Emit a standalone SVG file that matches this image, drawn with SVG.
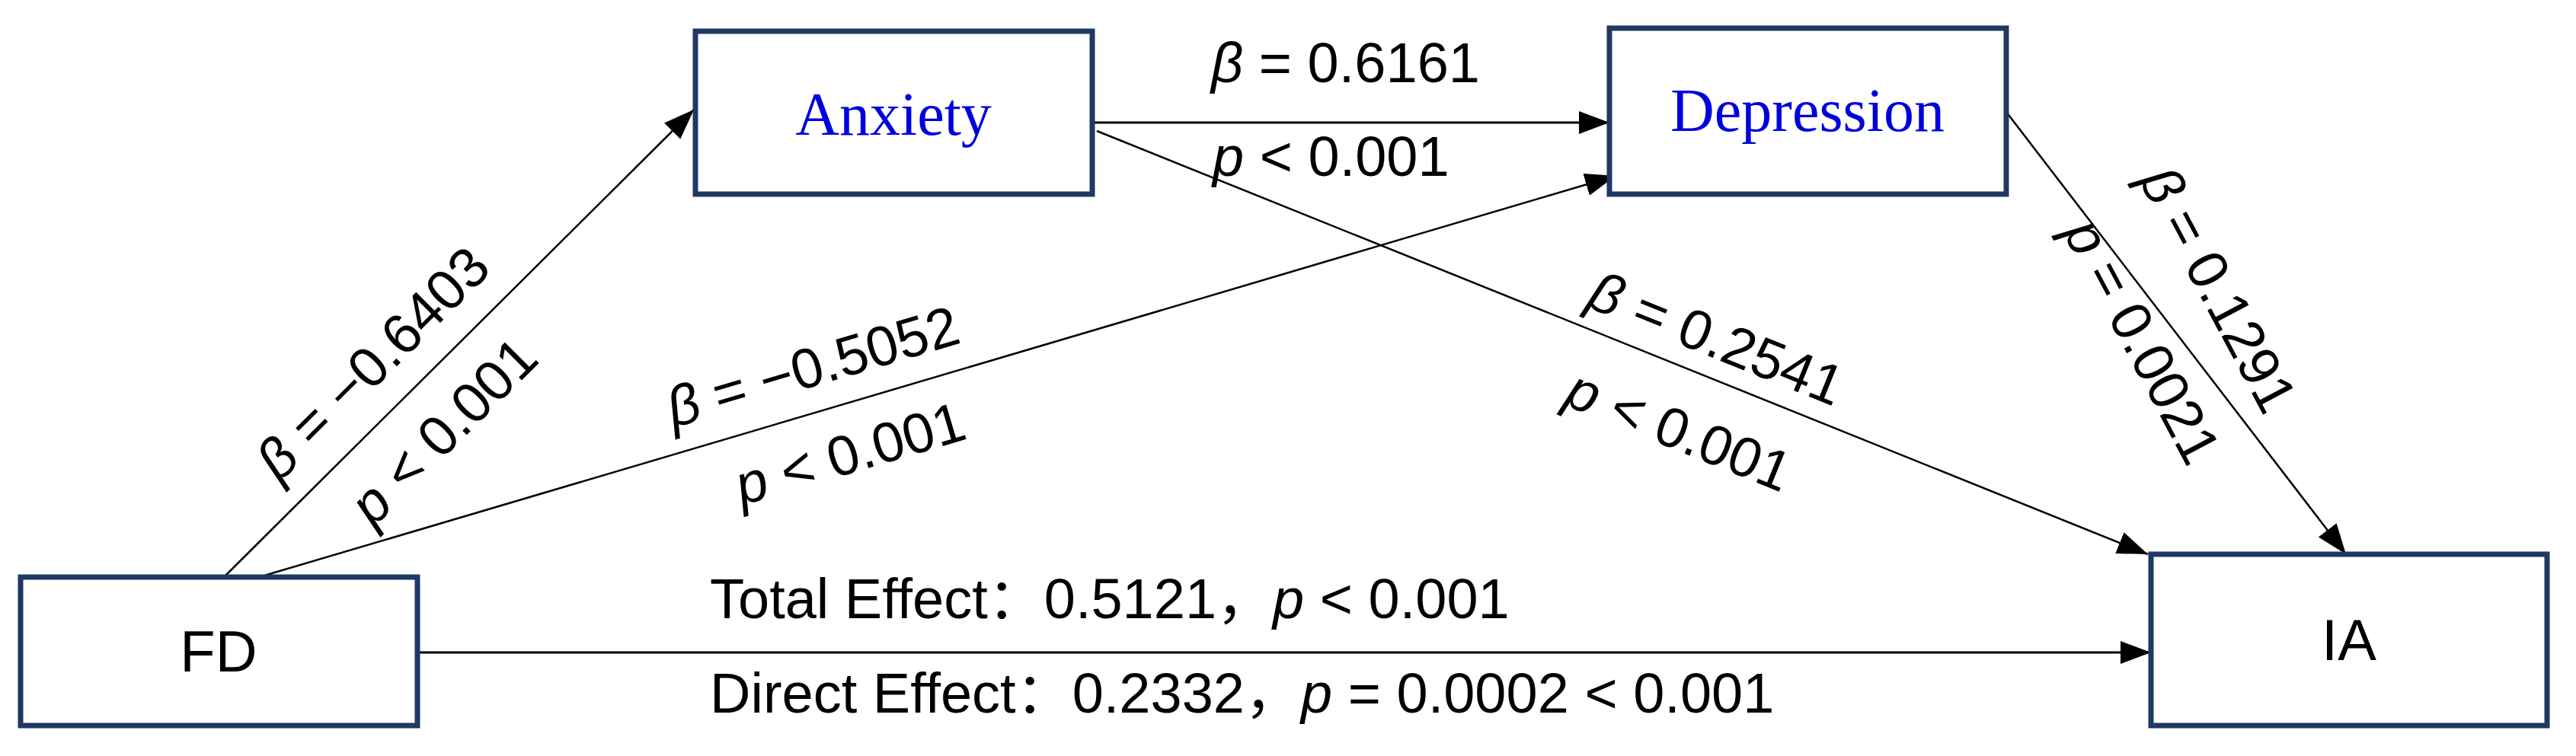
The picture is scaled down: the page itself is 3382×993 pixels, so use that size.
<svg xmlns="http://www.w3.org/2000/svg" width="3382" height="993" viewBox="0 0 3382 993">
<defs>
<marker id="ah" viewBox="0 0 40 30" refX="40" refY="15" markerWidth="40" markerHeight="30" markerUnits="userSpaceOnUse" orient="auto"><path d="M0,0 L40,15 L0,30 Z" fill="#000"/></marker>
<style>
.box{fill:#fff;stroke:#1f3864;stroke-width:7}
.ln{stroke:#000;stroke-width:3;fill:none;marker-end:url(#ah)}
.t{font-family:"Liberation Sans","Noto Sans CJK SC",sans-serif;font-size:76px;fill:#000;text-anchor:middle}
.s{font-family:"Liberation Serif",serif;font-size:80px;fill:#0000dd;text-anchor:middle}
.l{font-family:"Liberation Sans","Noto Sans CJK SC",sans-serif;font-size:74px;fill:#000}
</style>
</defs>
<rect width="3382" height="993" fill="#fff"/>
<g id="edges">
<line class="ln" x1="295" y1="757" x2="911" y2="144" style="stroke-width:2.5"/>
<line class="ln" x1="320" y1="764" x2="2121" y2="231" style="stroke-width:2.5"/>
<line class="ln" x1="1434" y1="161" x2="2113" y2="161"/>
<line class="ln" x1="1440" y1="172" x2="2820" y2="728" style="stroke-width:2.5"/>
<line class="ln" x1="2634" y1="147" x2="3080" y2="728" style="stroke-width:2.5"/>
<line class="ln" x1="548" y1="857" x2="2824" y2="857"/>
</g>
<g id="node-anxiety"><rect class="box" x="913" y="41" width="521" height="214"/><text class="s" x="1173" y="177">Anxiety</text></g>
<g id="node-depression"><rect class="box" x="2113" y="37" width="521" height="218"/><text class="s" x="2373" y="172">Depression</text></g>
<g id="node-fd"><rect class="box" x="27" y="758" width="521" height="195"/><text class="t" x="287" y="882">FD</text></g>
<g id="node-ia"><rect class="box" x="2824" y="728" width="520" height="225"/><text class="t" x="3084" y="867">IA</text></g>
<g id="labels">
<text class="l" x="1590" y="108"><tspan font-style="italic">β</tspan> = 0.6161</text>
<text class="l" x="1592" y="231"><tspan font-style="italic">p</tspan> &lt; 0.001</text>
<text class="l" text-anchor="middle" transform="translate(507,495) rotate(-44.9)"><tspan font-style="italic">β</tspan> = −0.6403</text>
<text class="l" text-anchor="middle" transform="translate(600,584) rotate(-44.9)"><tspan font-style="italic">p</tspan> &lt; 0.001</text>
<text class="l" text-anchor="middle" transform="translate(1074,506) rotate(-16.5)"><tspan font-style="italic">β</tspan> = −0.5052</text>
<text class="l" text-anchor="middle" transform="translate(1123,620) rotate(-16.5)"><tspan font-style="italic">p</tspan> &lt; 0.001</text>
<text class="l" text-anchor="middle" transform="translate(2244,468) rotate(22)"><tspan font-style="italic">β</tspan> = 0.2541</text>
<text class="l" text-anchor="middle" transform="translate(2195,589) rotate(22)"><tspan font-style="italic">p</tspan> &lt; 0.001</text>
<text class="l" text-anchor="middle" transform="translate(2890,392) rotate(62)"><tspan font-style="italic">β</tspan> = 0.1291</text>
<text class="l" text-anchor="middle" transform="translate(2790,460) rotate(62)"><tspan font-style="italic">p</tspan> = 0.0021</text>
<text class="l" x="932" y="812">Total Effect：0.5121，<tspan font-style="italic">p</tspan> &lt; 0.001</text>
<text class="l" x="932" y="936">Direct Effect：0.2332，<tspan font-style="italic">p</tspan> = 0.0002 &lt; 0.001</text>
</g>
</svg>
